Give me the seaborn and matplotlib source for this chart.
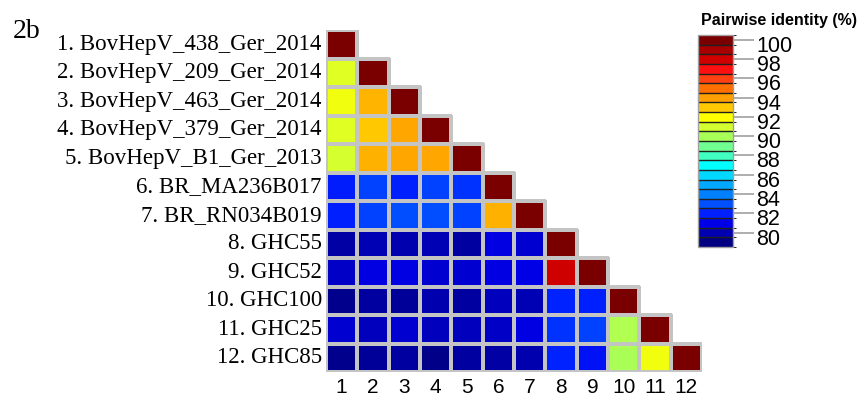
import numpy as np
import pandas as pd
import matplotlib
matplotlib.use("Agg")
import matplotlib.pyplot as plt
from matplotlib.colors import LinearSegmentedColormap, ListedColormap, BoundaryNorm, to_rgba
import matplotlib.transforms as mtransforms
import matplotlib.cm as cm
import seaborn as sns

# ---------------- data ----------------
labels = ["1. BovHepV_438_Ger_2014", "2. BovHepV_209_Ger_2014", "3. BovHepV_463_Ger_2014",
          "4. BovHepV_379_Ger_2014", "5. BovHepV_B1_Ger_2013", "6. BR_MA236B017",
          "7. BR_RN034B019", "8. GHC55", "9. GHC52", "10. GHC100", "11. GHC25", "12. GHC85"]
col_labels = [str(i) for i in range(1, 13)]

row1 = [100]
row2 = [91.3, 100]
row3 = [91.7, 93.5, 100]
row4 = [91.3, 93.0, 93.8, 100]
row5 = [91.0, 93.6, 93.8, 93.8, 100]
row6 = [81.9, 82.7, 82.0, 82.7, 82.4, 100]
row7 = [82.0, 82.7, 83.0, 83.0, 82.7, 93.6, 100]
row8 = [79.8, 80.1, 80.0, 80.1, 79.7, 80.9, 80.6, 100]
row9 = [80.4, 80.9, 80.9, 80.6, 80.6, 80.9, 81.0, 98.0, 100]
row10 = [79.3, 79.7, 79.5, 80.0, 79.7, 80.3, 80.1, 82.1, 82.0, 100]
row11 = [80.6, 80.3, 80.6, 80.3, 80.3, 80.4, 80.9, 82.4, 82.7, 90.2, 100]
row12 = [79.3, 79.5, 79.7, 79.2, 79.7, 79.8, 80.0, 82.1, 81.6, 90.0, 91.7, 100]
rows = [row1, row2, row3, row4, row5, row6, row7, row8, row9, row10, row11, row12]

# colour levels 79 .. 100 (one per integer, as in the legend)
level_values = list(range(79, 101))
level_colors = ["#000080", "#0000b0", "#0000e8", "#0020ff", "#0050ff", "#0080ff",
                "#00a8ff", "#00d8ff", "#00ffff", "#40ffc0", "#70ff90", "#a8ff58",
                "#d4ff30", "#ffff00", "#ffc800", "#ffa000", "#ff7000", "#ff4010",
                "#ff1010", "#d00000", "#a80000", "#7a0000"]
cbar_ticks = list(range(80, 101, 2))

# ---------------- build matrix ----------------
n = len(labels)
mat = np.full((n, n), np.nan)
for i, r in enumerate(rows):
    mat[i, :len(r)] = r
df = pd.DataFrame(mat, index=labels, columns=col_labels)
mask = np.isnan(mat)

vmin, vmax = level_values[0], level_values[-1]
nodes = [(v - vmin) / (vmax - vmin) for v in level_values]
cmap = LinearSegmentedColormap.from_list("ident", list(zip(nodes, level_colors)))

# ---------------- figure ----------------
W, H = 865, 401
fig = plt.figure(figsize=(W / 100, H / 100), dpi=100)
ax = fig.add_axes([326 / W, 1 - 372 / H, 376 / W, 342 / H])

sns.heatmap(df, mask=mask, cmap=cmap, vmin=vmin, vmax=vmax, cbar=False,
            linewidths=1.6, linecolor="#c4c4c4", ax=ax, square=False)

# hide the grid lines around the empty (masked) upper-triangle cells
mesh = ax.collections[0]
edge = to_rgba("#c4c4c4")
ecols = [(0, 0, 0, 0) if m else edge for m in mask.ravel()]
mesh.set_edgecolors(ecols)

ax.tick_params(axis="both", length=0)
ax.set_yticks(np.arange(n) + 0.5)
ax.set_yticklabels(labels, rotation=0, family="Liberation Serif", fontsize=16.5)
ax.set_xticks(np.arange(n) + 0.5)
ax.set_xticklabels(col_labels, rotation=0, family="Liberation Sans", fontsize=15)
ax.tick_params(axis="y", pad=3)
ax.tick_params(axis="x", pad=4)
ax.set_xlabel("")
ax.set_ylabel("")

fig.text(13 / W, 1 - 38 / H, "2b", family="Liberation Serif", fontsize=20,
         ha="left", va="baseline")

# ---------------- discrete colour bar ----------------
cax = fig.add_axes([698 / W, 1 - 247 / H, 35 / W, 212 / H])
bounds = np.arange(vmin - 0.5, vmax + 1.0, 1.0)
dcmap = ListedColormap(level_colors)
dnorm = BoundaryNorm(bounds, dcmap.N)
sm = cm.ScalarMappable(norm=dnorm, cmap=dcmap)
cb = fig.colorbar(sm, cax=cax, boundaries=bounds, ticks=cbar_ticks, drawedges=True)
cb.dividers.set_color("#202020")
cb.dividers.set_linewidth(1.0)
cb.outline.set_edgecolor("#a0a0a0")
cb.outline.set_linewidth(1.0)
cax.tick_params(axis="y", length=15, width=1.2, color="#a0a0a0", pad=2)
cax.set_yticklabels([str(t) for t in cbar_ticks])
shift = mtransforms.ScaledTranslation(0, -4 / 100, fig.dpi_scale_trans)
for t in cax.get_yticklabels():
    t.set_fontfamily("Liberation Sans")
    t.set_fontsize(15.5)
    t.set_transform(t.get_transform() + shift)

fig.text(701 / W, 1 - 20 / H, "Pairwise identity (%)", family="Liberation Sans",
         fontweight="bold", fontsize=11.5, ha="left", va="center")

fig.savefig("out.png", dpi=100, facecolor="white")
